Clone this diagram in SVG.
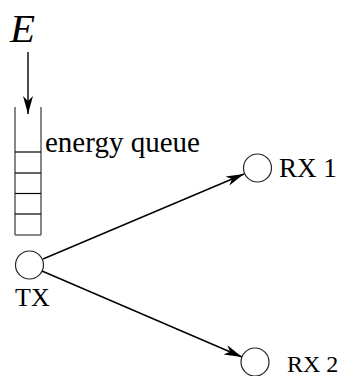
<svg xmlns="http://www.w3.org/2000/svg" width="345" height="376" viewBox="0 0 345 376">
<defs>
<style>
text{font-family:'Liberation Serif','Times New Roman',serif;fill:#000}
.node{fill:#fff;stroke:#222;stroke-width:1.2}
.edge{stroke:#000;stroke-width:1.4;fill:none}
.q{stroke:#000;stroke-width:1.2}
.qs{stroke:#555;stroke-width:1.4}
</style>
<marker id="ah" markerUnits="userSpaceOnUse" markerWidth="20" markerHeight="12" refX="18" refY="5" orient="auto" overflow="visible">
<path d="M18,5 L0,0 L5,5 L0,10 Z" fill="#000"/>
</marker>
</defs>
<g id="energy">
<text x="10" y="42" font-family="Liberation Serif, serif" font-size="41" font-style="italic">E</text>
</g>
<g id="queue">
<line class="qs" x1="15" y1="107" x2="15" y2="235"/>
<line class="qs" x1="41" y1="107" x2="41" y2="235"/>
<line class="q" x1="15" y1="152" x2="41" y2="152"/>
<line class="q" x1="15" y1="173" x2="41" y2="173"/>
<line class="q" x1="15" y1="193.5" x2="41" y2="193.5"/>
<line class="q" x1="15" y1="214" x2="41" y2="214"/>
<line class="qs" x1="15" y1="235" x2="41" y2="235"/>
<text x="45" y="152" font-family="Liberation Serif, serif" font-size="29">energy queue</text>
</g>
<g id="tx">
<circle class="node" cx="29.5" cy="265" r="14"/>
<text x="15" y="306" font-family="Liberation Serif, serif" font-size="26">TX</text>
</g>
<g id="rx1">
<circle class="node" cx="257.5" cy="168" r="14"/>
<text x="279" y="177" font-family="Liberation Serif, serif" font-size="27">RX 1</text>
</g>
<g id="rx2">
<circle class="node" cx="255" cy="362" r="14"/>
<text x="287" y="372" font-family="Liberation Serif, serif" font-size="24">RX 2</text>
</g>
<g id="connectors">
<line class="edge" x1="28" y1="52" x2="28" y2="114" marker-end="url(#ah)"/>
<line class="edge" x1="43" y1="259" x2="244" y2="174" marker-end="url(#ah)"/>
<line class="edge" x1="42" y1="271" x2="242" y2="357" marker-end="url(#ah)"/>
</g>
</svg>
